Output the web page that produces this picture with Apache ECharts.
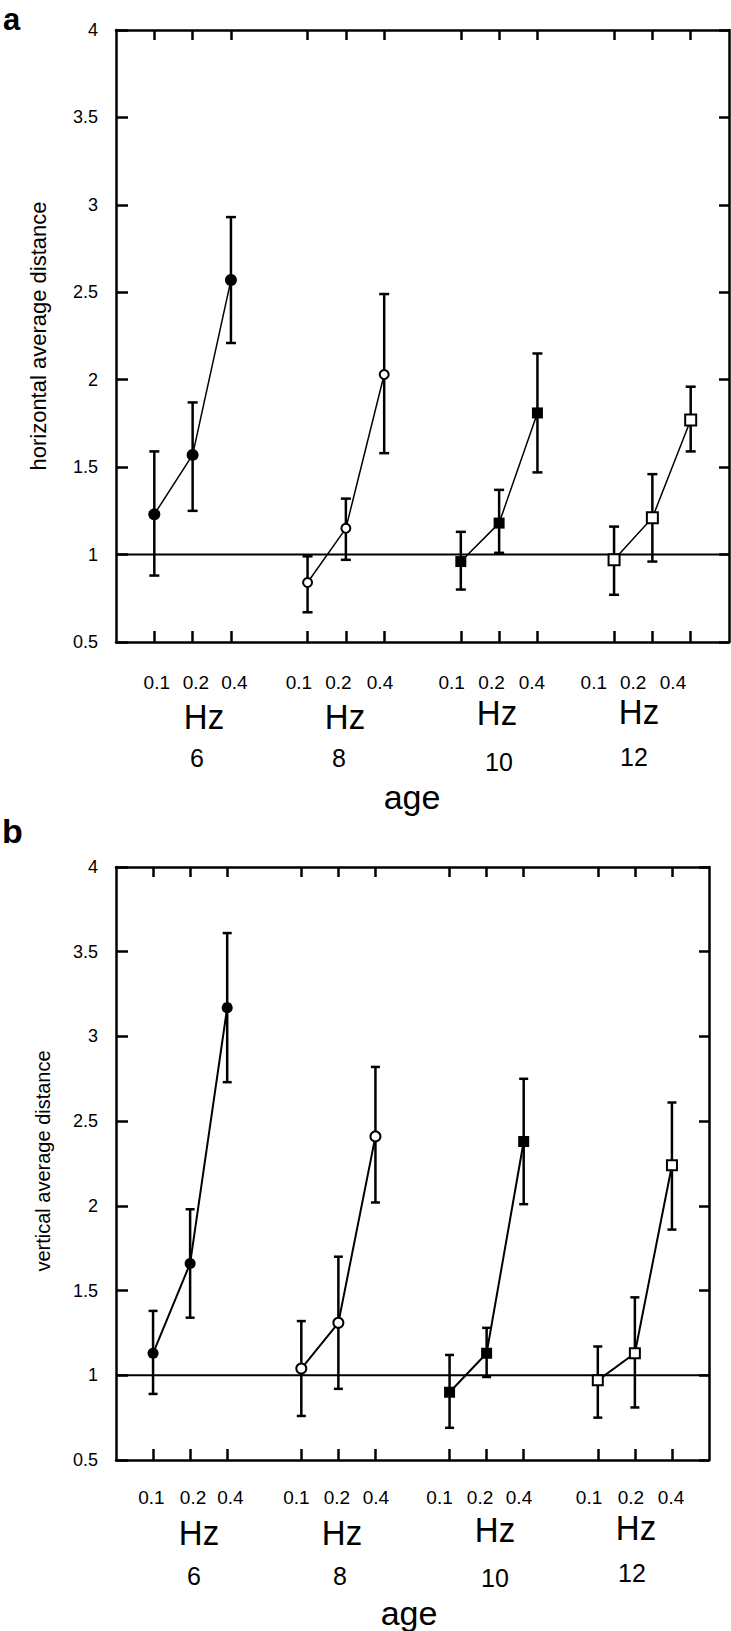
<!DOCTYPE html>
<html><head><meta charset="utf-8">
<script src="https://cdn.jsdelivr.net/npm/echarts@6/dist/echarts.min.js"></script>
<style>html,body{margin:0;padding:0;background:#fff}#c{width:731px;height:1631px}</style>
</head><body><div id="c"></div><script>
// ---------- data ----------
const ageGroups = ['6', '8', '10', '12'];
const freqLabels = ['0.1', '0.2', '0.4'];
const yMin = 0.5, yMax = 4, yStep = 0.5;
const refValue = 1;

// panel a : horizontal average distance (rows = age 6, 8, 10, 12 ; cols = 0.1, 0.2, 0.4 Hz)
const horizMean = [[1.23, 1.57, 2.57], [0.84, 1.15, 2.03], [0.96, 1.18, 1.81], [0.97, 1.21, 1.77]];
const horizLow  = [[0.88, 1.25, 2.21], [0.67, 0.97, 1.58], [0.80, 1.01, 1.47], [0.77, 0.96, 1.59]];
const horizHigh = [[1.59, 1.87, 2.93], [0.99, 1.32, 2.49], [1.13, 1.37, 2.15], [1.16, 1.46, 1.96]];

// panel b : vertical average distance
const vertMean = [[1.13, 1.66, 3.17], [1.04, 1.31, 2.41], [0.90, 1.13, 2.38], [0.97, 1.13, 2.24]];
const vertLow  = [[0.89, 1.34, 2.73], [0.76, 0.92, 2.02], [0.69, 0.99, 2.01], [0.75, 0.81, 1.86]];
const vertHigh = [[1.38, 1.98, 3.61], [1.32, 1.70, 2.82], [1.12, 1.28, 2.75], [1.17, 1.46, 2.61]];

// ---------- styling / layout ----------
const FONT = '"Liberation Sans", Arial, Helvetica, sans-serif';
const BLACK = '#000';

// category slots: empty slot, 3 frequencies, empty slot, ... (17 slots)
const cats = ['s0'];
const catText = [''];
ageGroups.forEach((a, g) => {
  freqLabels.forEach(f => { cats.push('age' + a + '_' + f); catText.push(f); });
  cats.push('s' + (g + 1)); catText.push('');
});
const slot = (g, f) => 1 + 4 * g + f;
const lastSlot = cats.length - 1;

const markerStyles = [
  { symbol: 'circle', filled: true },
  { symbol: 'circle', filled: false },
  { symbol: 'rect', filled: true },
  { symbol: 'rect', filled: false }
];

const panels = [
  {
    grid: { left: 116, top: 30, width: 613, height: 612 },
    mean: horizMean, low: horizLow, high: horizHigh,
    labelShift: [[2.5, 3.2, 3.5], [-8.6, -7.4, -4.2], [-9.1, -7.6, -5.6], [-20.3, -19.3, -17.7]],
    labelMargin: 31, lineWidth: 1.5, sizes: [12, 9, 11, 11], capW: 10,
    letter: { text: 'a', x: 3, y: 4, align: 'top', size: 31 },
    yName: { text: 'horizontal average distance', x: 38, y: 336, size: 22 },
    hz: [[204, 717], [345, 717], [497, 713], [639, 712]],
    ages: [[197, 758], [339, 758], [499, 762], [634, 757]],
    ageTitle: [412, 797]
  },
  {
    grid: { left: 116, top: 867, width: 593, height: 593 },
    mean: vertMean, low: vertLow, high: vertHigh,
    labelShift: [[-1.7, 2.9, 3.2], [-4.9, -1.4, 0.4], [-10, -6.6, -4.7], [-8.8, -4, -0.9]],
    labelMargin: 28, lineWidth: 2, sizes: [11, 10, 11, 10], capW: 9,
    letter: { text: 'b', x: 2, y: 848, align: 'bottom', size: 34 },
    yName: { text: 'vertical average distance', x: 43, y: 1161, size: 20 },
    hz: [[199, 1533], [342, 1533], [495, 1530], [636, 1528]],
    ages: [[194, 1576], [340, 1576], [495, 1578], [632, 1573]],
    ageTitle: [409, 1613]
  }
];

const grids = [], xAxes = [], yAxes = [], series = [], graphics = [];

const axisLine = { show: true, lineStyle: { color: BLACK, width: 2.5 } };
const tickStyle = { color: BLACK, width: 2.5 };
const showSlot = (i) => catText[i] !== '';

panels.forEach((p, pi) => {
  grids.push(Object.assign({ containLabel: false }, p.grid));
  // rich styles for per-label horizontal shifts
  const rich = {};
  cats.forEach((c, i) => {
    if (!showSlot(i)) return;
    const g = Math.floor((i - 1) / 4), f = (i - 1) % 4;
    const d = p.labelShift[g][f];
    rich['k' + i] = {
      fontSize: 19, fontFamily: FONT, color: BLACK,
      padding: d >= 0 ? [0, 0, 0, 2 * d] : [0, -2 * d, 0, 0]
    };
  });
  xAxes.push({
    gridIndex: pi, type: 'category', data: cats, boundaryGap: false, position: 'bottom',
    axisLine: axisLine,
    axisTick: { show: true, inside: true, length: 11, lineStyle: tickStyle, interval: (i) => showSlot(i) },
    axisLabel: {
      show: true, interval: (i) => showSlot(i), margin: p.labelMargin,
      fontSize: 19, fontFamily: FONT, color: BLACK,
      formatter: (v, i) => catText[i] ? '{k' + i + '|' + catText[i] + '}' : '',
      rich: rich
    },
    splitLine: { show: false }
  });
  xAxes.push({
    gridIndex: pi, type: 'category', data: cats, boundaryGap: false, position: 'top',
    axisLine: axisLine,
    axisTick: { show: true, inside: true, length: 10, lineStyle: tickStyle, interval: (i) => showSlot(i) },
    axisLabel: { show: false }, splitLine: { show: false }
  });
  yAxes.push({
    gridIndex: pi, type: 'value', min: yMin, max: yMax, interval: yStep, position: 'left',
    axisLine: axisLine,
    axisTick: { show: true, inside: true, length: 12, lineStyle: tickStyle },
    axisLabel: { margin: 18, fontSize: 18, fontFamily: FONT, color: BLACK },
    splitLine: { show: false }
  });
  yAxes.push({
    gridIndex: pi, type: 'value', min: yMin, max: yMax, interval: yStep, position: 'right',
    axisLine: axisLine,
    axisTick: { show: true, inside: true, length: 10, lineStyle: tickStyle },
    axisLabel: { show: false }, splitLine: { show: false }
  });

  const xi = pi * 2, yi = pi * 2;

  // reference line at 1
  series.push({
    type: 'line', xAxisIndex: xi, yAxisIndex: yi, z: 1, silent: true,
    data: [[0, refValue], [lastSlot, refValue]], symbol: 'none',
    lineStyle: { color: BLACK, width: 2 }
  });

  ageGroups.forEach((age, g) => {
    // error bars
    const cw = p.capW / 2;
    series.push({
      type: 'custom', xAxisIndex: xi, yAxisIndex: yi, z: 2, silent: true,
      encode: { x: 0, y: [1, 2] },
      data: freqLabels.map((f, k) => [slot(g, k), p.low[g][k], p.high[g][k]]),
      renderItem: (params, api) => {
        const x = api.value(0);
        const a = api.coord([x, api.value(1)]);
        const b = api.coord([x, api.value(2)]);
        const st = { stroke: BLACK, lineWidth: 2.5 };
        return {
          type: 'group', children: [
            { type: 'line', shape: { x1: a[0], y1: a[1], x2: b[0], y2: b[1] }, style: st },
            { type: 'line', shape: { x1: b[0] - cw, y1: b[1], x2: b[0] + cw, y2: b[1] }, style: st },
            { type: 'line', shape: { x1: a[0] - cw, y1: a[1], x2: a[0] + cw, y2: a[1] }, style: st }
          ]
        };
      }
    });
    // means with connecting line
    const ms = markerStyles[g];
    series.push({
      type: 'line', name: 'age ' + age, xAxisIndex: xi, yAxisIndex: yi, z: 3, silent: true,
      data: freqLabels.map((f, k) => [slot(g, k), p.mean[g][k]]),
      symbol: ms.symbol, symbolSize: p.sizes[g], showAllSymbol: true,
      itemStyle: ms.filled ? { color: BLACK, borderColor: BLACK, borderWidth: 0 }
                           : { color: '#fff', borderColor: BLACK, borderWidth: 2 },
      lineStyle: { color: BLACK, width: p.lineWidth }
    });
  });

  // texts
  graphics.push({
    type: 'text', x: p.letter.x, y: p.letter.y,
    style: { text: p.letter.text, fill: BLACK, font: 'bold ' + p.letter.size + 'px ' + FONT, textAlign: 'left', textVerticalAlign: p.letter.align, align: 'left', verticalAlign: p.letter.align }
  });
  graphics.push({
    type: 'text', x: p.yName.x, y: p.yName.y, rotation: Math.PI / 2,
    style: { text: p.yName.text, fill: BLACK, font: p.yName.size + 'px ' + FONT, textAlign: 'center', textVerticalAlign: 'middle', align: 'center', verticalAlign: 'middle' }
  });
  ageGroups.forEach((age, g) => {
    graphics.push({
      type: 'text', x: p.hz[g][0], y: p.hz[g][1], scaleY: 1.08,
      style: { text: 'Hz', fill: BLACK, font: '33px ' + FONT, textAlign: 'center', textVerticalAlign: 'middle', align: 'center', verticalAlign: 'middle' }
    });
    graphics.push({
      type: 'text', x: p.ages[g][0], y: p.ages[g][1],
      style: { text: age, fill: BLACK, font: '25px ' + FONT, textAlign: 'center', textVerticalAlign: 'middle', align: 'center', verticalAlign: 'middle' }
    });
  });
  graphics.push({
    type: 'text', x: p.ageTitle[0], y: p.ageTitle[1],
    style: { text: 'age', fill: BLACK, font: '34px ' + FONT, textAlign: 'center', textVerticalAlign: 'middle', align: 'center', verticalAlign: 'middle' }
  });
});

const chart = echarts.init(document.getElementById('c'), null, { renderer: 'svg' });
chart.setOption({
  animation: false,
  backgroundColor: '#fff',
  grid: grids, xAxis: xAxes, yAxis: yAxes, series: series,
  graphic: { elements: graphics }
});
</script></body></html>
